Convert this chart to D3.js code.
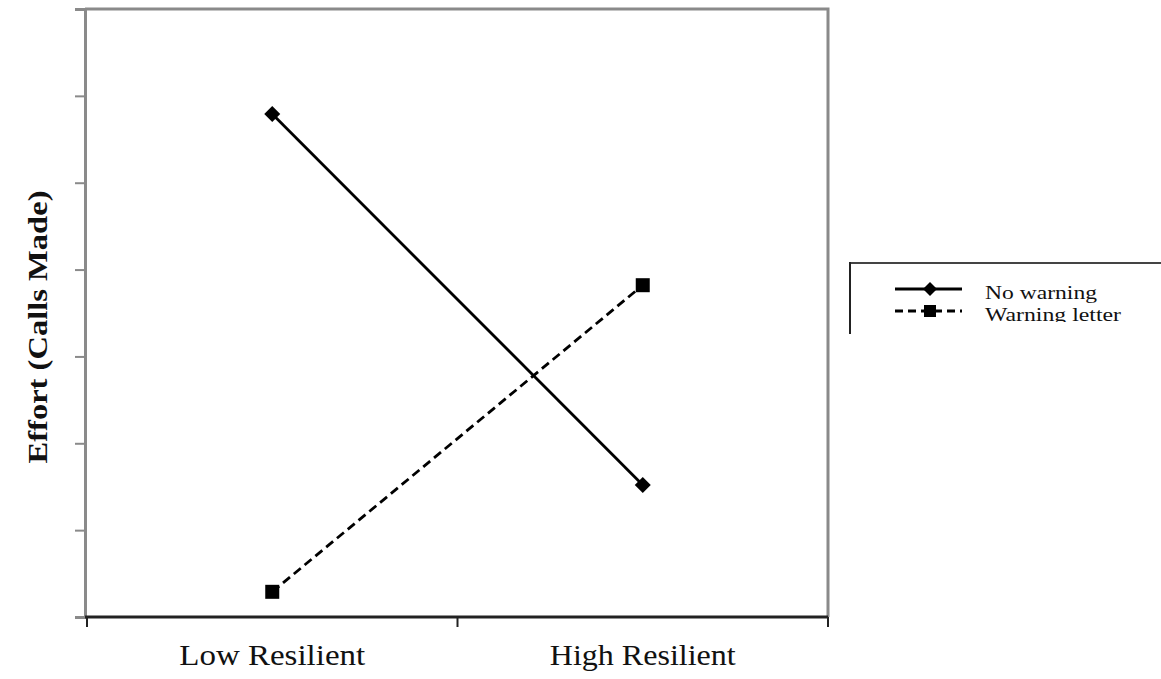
<!DOCTYPE html>
<html>
<head>
<meta charset="utf-8">
<script src="https://cdn.jsdelivr.net/npm/d3@7"></script>
<style>
  body { margin: 0; background: white; }
  svg { display: block; }
  text { font-family: "Liberation Serif", "DejaVu Serif", serif; }
</style>
</head>
<body>
<div id="chart"></div>
<script>
// data (y axis has no labels, arbitrary units 0..7)
const categories = ["Low Resilient", "High Resilient"];
const seriesNames = ["No warning", "Warning letter"];
const noWarning = [5.79, 1.52];
const warningLetter = [0.29, 3.82];
const yTicks = [0, 1, 2, 3, 4, 5, 6, 7];

const width = 1161, height = 679;
const plot = { left: 85, right: 828, top: 9, bottom: 617 };

const svg = d3.select("#chart").append("svg")
    .attr("width", width)
    .attr("height", height)
    .style("background-color", "white");

const x = d3.scaleBand()
    .domain(categories)
    .range([plot.left + 2, plot.right]);
const y = d3.scaleLinear()
    .domain([0, 7])
    .range([plot.bottom, plot.top]);

// frame: top and right in gray
svg.append("path")
    .attr("d", "M" + plot.left + "," + plot.top + "H" + plot.right + "V" + plot.bottom)
    .attr("fill", "none")
    .attr("stroke", "#8a8a8a")
    .attr("stroke-width", 3);

// y axis (gray, no labels)
const yAxis = svg.append("g")
    .attr("transform", "translate(" + plot.left + ",0)")
    .call(d3.axisLeft(y).tickValues(yTicks).tickSize(10).tickFormat(""));
yAxis.select(".domain").attr("stroke", "#8a8a8a").attr("stroke-width", 3);
yAxis.selectAll(".tick line").attr("stroke", "#8a8a8a").attr("stroke-width", 2);

// x axis (black, ticks between categories)
const xEdges = categories.map(c => x(c)).concat([x.range()[1]]);
svg.append("line")
    .attr("x1", plot.left).attr("x2", plot.right)
    .attr("y1", plot.bottom).attr("y2", plot.bottom)
    .attr("stroke", "#222").attr("stroke-width", 3);
svg.selectAll(".xtick")
    .data(xEdges)
    .enter().append("line")
    .attr("class", "xtick")
    .attr("x1", d => d).attr("x2", d => d)
    .attr("y1", plot.bottom).attr("y2", plot.bottom + 10)
    .attr("stroke", "#222").attr("stroke-width", 2);

svg.selectAll(".xlabel")
    .data(categories)
    .enter().append("text")
    .attr("class", "xlabel")
    .attr("x", d => x(d) + x.bandwidth() / 2)
    .attr("y", 665)
    .attr("text-anchor", "middle")
    .attr("font-size", 30)
    .attr("textLength", 186)
    .attr("lengthAdjust", "spacingAndGlyphs")
    .attr("fill", "#111")
    .text(d => d);

svg.append("text")
    .attr("transform", "translate(47," + ((plot.top + plot.bottom) / 2 + 14) + ") rotate(-90)")
    .attr("text-anchor", "middle")
    .attr("font-weight", "bold")
    .attr("font-size", 28)
    .attr("textLength", 273)
    .attr("lengthAdjust", "spacingAndGlyphs")
    .attr("fill", "#111")
    .text("Effort (Calls Made)");

// series
const line = d3.line()
    .x((d, i) => x(categories[i]) + x.bandwidth() / 2)
    .y(d => y(d));

const series = [
    { name: seriesNames[0], values: noWarning, dash: null, marker: "diamond" },
    { name: seriesNames[1], values: warningLetter, dash: "9,5", marker: "square" }
];

function drawMarker(g, s, cx, cy, r) {
    if (s.marker === "square") {
        g.append("rect")
            .attr("x", cx - r).attr("y", cy - r)
            .attr("width", 2 * r).attr("height", 2 * r)
            .attr("fill", "#000");
    } else {
        const d = r + 1;
        g.append("path")
            .attr("d", "M" + cx + "," + (cy - d) + "L" + (cx + d) + "," + cy + "L" + cx + "," + (cy + d) + "L" + (cx - d) + "," + cy + "Z")
            .attr("fill", "#000");
    }
}

series.forEach(s => {
    svg.append("path")
        .datum(s.values)
        .attr("d", line)
        .attr("fill", "none")
        .attr("stroke", "#000")
        .attr("stroke-width", 2.8)
        .attr("stroke-dasharray", s.dash);
    const g = svg.append("g");
    s.values.forEach((v, i) => {
        drawMarker(g, s, x(categories[i]) + x.bandwidth() / 2, y(v), 7);
    });
});

// legend (box is cut off at the right and bottom in the original)
const legend = svg.append("g");
svg.append("clipPath").attr("id", "legendClip")
    .append("rect").attr("x", 849).attr("y", 262).attr("width", 320).attr("height", 60);
legend.append("line")
    .attr("x1", 849).attr("x2", width).attr("y1", 263).attr("y2", 263)
    .attr("stroke", "#444").attr("stroke-width", 2);
legend.append("line")
    .attr("x1", 850).attr("x2", 850).attr("y1", 262).attr("y2", 334)
    .attr("stroke", "#222").attr("stroke-width", 2);

const legendRows = [289, 311];
series.forEach((s, i) => {
    const ly = legendRows[i];
    legend.append("line")
        .attr("x1", 895).attr("x2", 962)
        .attr("y1", ly).attr("y2", ly)
        .attr("stroke", "#000").attr("stroke-width", 2.8)
        .attr("stroke-dasharray", s.dash ? "8,5" : null);
    drawMarker(legend, s, 930, ly, 6);
    legend.append("text")
        .attr("clip-path", "url(#legendClip)")
        .attr("x", 985)
        .attr("y", ly + 10)
        .attr("font-size", 19)
        .attr("textLength", i === 0 ? 112 : 136)
        .attr("lengthAdjust", "spacingAndGlyphs")
        .attr("fill", "#111")
        .text(s.name);
});
</script>
</body>
</html>
